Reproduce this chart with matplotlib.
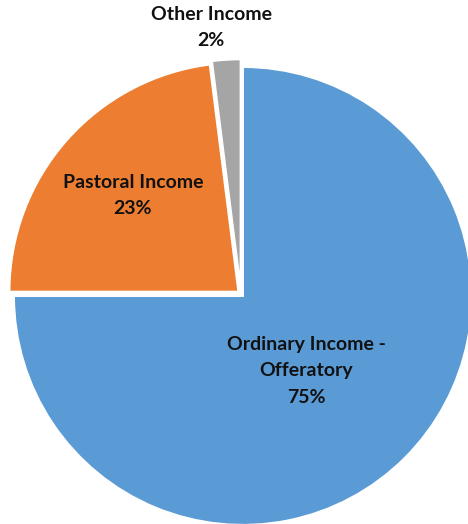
import matplotlib
matplotlib.use("Agg")
import matplotlib.pyplot as plt

labels = ["Ordinary Income -\nOfferatory", "Pastoral Income", "Other Income"]
shares = [75, 23, 2]
colors = ["#5B9BD5", "#ED7D31", "#A5A5A5"]
explode = [0.012, 0.015, 0.025]

# label anchor points (data units, pie radius = 1)
label_xy = [(0.284, -0.336), (-0.472, 0.43), (-0.131, 1.165)]

W, H = 468, 524
R = 229.0
CX, CY = 241, 294

fig = plt.figure(figsize=(W / 100, H / 100), dpi=100)
ax = fig.add_axes([0, 0, 1, 1])
ax.pie(shares, colors=colors, explode=explode, startangle=90,
       counterclock=False, radius=1.0,
       wedgeprops=dict(edgecolor="white", linewidth=1.5))
ax.set_xlim(-CX / R, (W - CX) / R)
ax.set_ylim(-(H - CY) / R, CY / R)
ax.set_aspect("auto")
ax.axis("off")

for lab, val, (x, y) in zip(labels, shares, label_xy):
    ax.text(x, y, f"{lab}\n{val}%", ha="center", va="center",
            fontsize=14, fontweight="bold", family="Lato",
            linespacing=1.65, color="#111111")

fig.savefig("out.png", dpi=100, facecolor="white")
